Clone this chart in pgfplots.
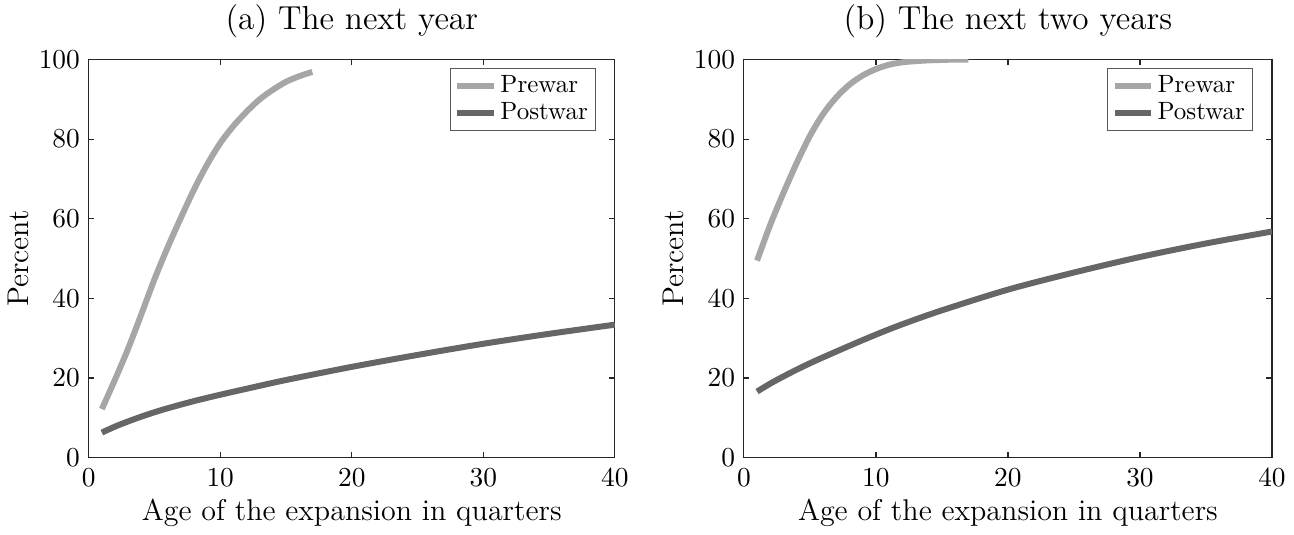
\documentclass[border=0pt]{standalone}
\usepackage{pgfplots}
\pgfplotsset{compat=1.18}
\definecolor{prewar}{RGB}{166,166,166}
\definecolor{postwar}{RGB}{102,102,102}
\definecolor{axgray}{RGB}{38,38,38}
\begin{document}
\begin{tikzpicture}
\pgfplotsset{
  myaxis/.style={
    scale only axis,
    width=210.4pt, height=159.2pt,
    xmin=0, xmax=40, ymin=0, ymax=100,
    xtick={0,10,20,30,40}, ytick={0,20,40,60,80,100},
    tick align=inside, major tick length=2.2pt,
    axis line style={axgray, line width=0.5pt},
    every tick/.style={axgray, line width=0.5pt},
    tick label style={font=\fontsize{11}{13}\selectfont},
    xticklabel style={yshift=-1pt},
    label style={font=\fontsize{12}{14}\selectfont},
    title style={font=\fontsize{13.3}{15}\selectfont, inner ysep=2pt, yshift=0.3pt},
    xlabel={Age of the expansion in quarters},
    ylabel={Percent},
    xlabel style={yshift=2pt},
    ylabel style={yshift=-3pt},
    legend style={at={(0.964,0.98)}, anchor=north east, draw=gray!70!black, line width=0.4pt,
      font=\fontsize{10}{12}\selectfont, inner xsep=1.5pt, inner ysep=1.5pt, row sep=-0.5pt,
      nodes={inner xsep=1.5pt, inner ysep=1.5pt},
      cells={anchor=west}},
    legend image code/.code={\draw[##1] (0pt,0pt) -- (14.5pt,0pt);},
    legend cell align=left,
  },
  prew/.style={color=prewar, line width=2.4pt, no marks, smooth},
  postw/.style={color=postwar, line width=2.4pt, no marks, smooth},
}
\begin{axis}[myaxis, name=left, at={(0pt,0pt)}, title={(a) The next year}]
\addplot[prew] coordinates {
(1,12.2) (2,19.6) (3,27.4) (4,36.0) (5,44.8) (6,52.8) (7,60.2) (8,67.3) (9,73.6) (10,79)
(11,83.3) (12,86.9) (13,90) (14,92.4) (15,94.4) (16,95.8) (17,96.9)};
\addlegendentry{Prewar}
\addplot[postw] coordinates {
(1,6.3) (2,7.8) (3,9.1) (4,10.3) (5,11.4) (6,12.4) (8,14.2) (10,15.8) (12,17.3)
(15,19.5) (20,22.8) (25,25.8) (30,28.6) (35,31.1) (40,33.4)};
\addlegendentry{Postwar}
\end{axis}
\begin{axis}[myaxis, name=right, at={(262pt,0pt)}, width=211.2pt, title={(b) The next two years}]
\addplot[prew] coordinates {
(1,49.5) (2,58.5) (3,66.5) (4,74) (5,80.8) (6,86.3) (7,90.5) (8,93.7) (9,96)
(10,97.6) (11,98.7) (12,99.3) (13,99.6) (14,99.8) (15,99.9) (16,100) (17,100)};
\addlegendentry{Prewar}
\addplot[postw] coordinates {
(1,16.6) (2,18.6) (3,20.4) (4,22.1) (5,23.7) (6,25.2) (8,28.1) (10,30.9) (12,33.5)
(15,37) (20,42.2) (25,46.5) (30,50.4) (35,53.8) (40,56.8)};
\addlegendentry{Postwar}
\end{axis}
\end{tikzpicture}
\end{document}
